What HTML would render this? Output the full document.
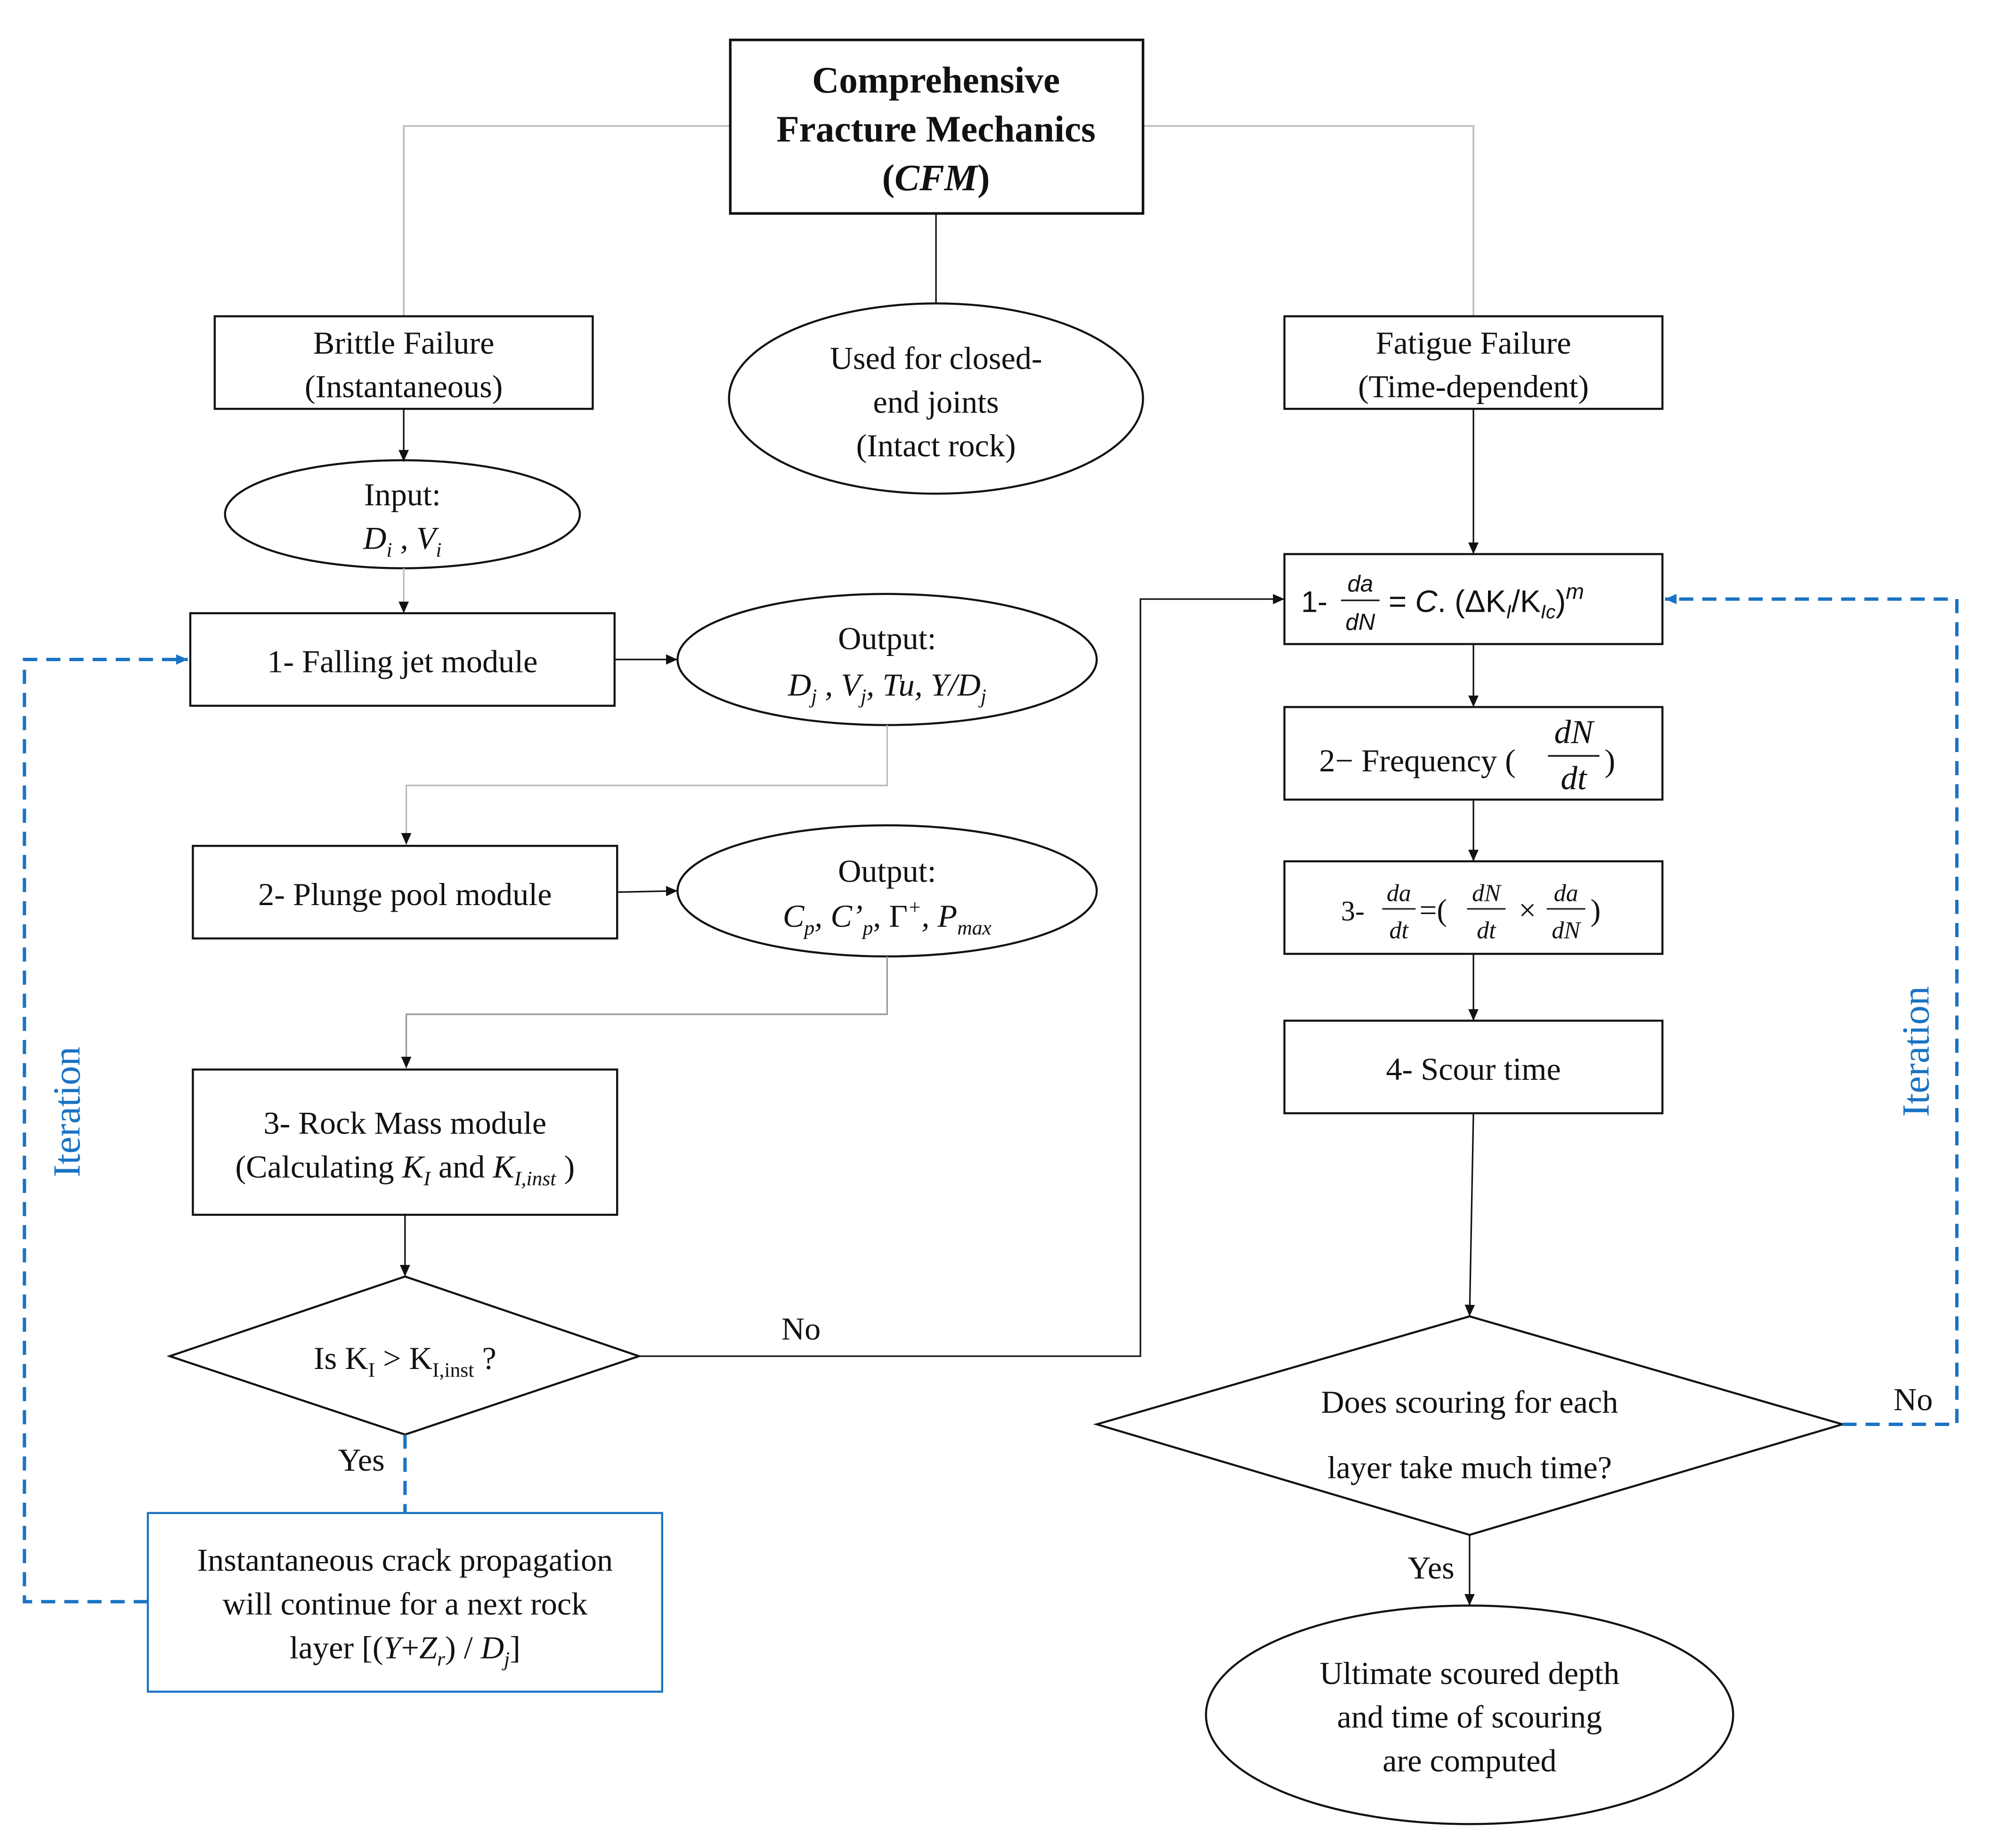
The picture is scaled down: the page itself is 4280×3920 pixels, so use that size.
<!DOCTYPE html>
<html><head><meta charset="utf-8"><style>
html,body{margin:0;padding:0;background:#fff;}
svg{display:block;}
text{font-family:"Liberation Serif",serif;fill:#111;}
</style></head><body>
<svg width="4280" height="3920" viewBox="0 0 1568 1436" xmlns="http://www.w3.org/2000/svg">
<defs>
<marker id="a" markerWidth="10" markerHeight="10" refX="9" refY="5" orient="auto" markerUnits="userSpaceOnUse"><path d="M0,1 L9,5 L0,9 z" fill="#111"/></marker>
<marker id="ab" markerWidth="10" markerHeight="10" refX="9" refY="5" orient="auto" markerUnits="userSpaceOnUse"><path d="M0,1 L9,5 L0,9 z" fill="#1a73c4"/></marker>
</defs>
<rect width="1568" height="1436" fill="#fff"/>
<g fill="none" stroke="#111" stroke-width="1.6">
<polyline points="568,98 314,98 314,246" stroke="#bbb" stroke-width="1.3"/>
<polyline points="889,98 1146,98 1146,246" stroke="#bbb" stroke-width="1.3"/>
<line x1="728" y1="166" x2="728" y2="236" stroke-width="1.2"/>
<rect x="568" y="31" width="321" height="135" stroke-width="2"/>
<rect x="167" y="246" width="294" height="72"/>
<ellipse cx="728" cy="310" rx="161" ry="74"/>
<rect x="999" y="246" width="294" height="72"/>
<line x1="314" y1="318" x2="314" y2="359" stroke-width="1.2" marker-end="url(#a)"/>
<ellipse cx="313" cy="400" rx="138" ry="42"/>
<line x1="314" y1="442" x2="314" y2="477" stroke="#bbb" stroke-width="1.2" marker-end="url(#a)"/>
<rect x="148" y="477" width="330" height="72"/>
<line x1="478" y1="513" x2="527" y2="513" stroke-width="1.2" marker-end="url(#a)"/>
<ellipse cx="690" cy="513" rx="163" ry="51"/>
<polyline points="690,564 690,611 316,611 316,657" stroke="#bbb" stroke-width="1.2" marker-end="url(#a)"/>
<rect x="150" y="658" width="330" height="72"/>
<line x1="480" y1="694" x2="527" y2="693" stroke-width="1.2" marker-end="url(#a)"/>
<ellipse cx="690" cy="693" rx="163" ry="51"/>
<polyline points="690,744 690,789 316,789 316,831" stroke="#999" stroke-width="1.2" marker-end="url(#a)"/>
<rect x="150" y="832" width="330" height="113"/>
<line x1="315" y1="945" x2="315" y2="993" stroke-width="1.2" marker-end="url(#a)"/>
<polygon points="132,1055 315,993 497,1055 315,1116"/>
<polyline points="497,1055 887,1055 887,466 999,466" stroke-width="1.2" marker-end="url(#a)"/>
<rect x="115" y="1177" width="400" height="139" stroke="#1a73c4"/>
<line x1="1146" y1="318" x2="1146" y2="431" stroke-width="1.2" marker-end="url(#a)"/>
<rect x="999" y="431" width="294" height="70"/>
<line x1="1146" y1="501" x2="1146" y2="550" stroke-width="1.2" marker-end="url(#a)"/>
<rect x="999" y="550" width="294" height="72"/>
<line x1="1146" y1="622" x2="1146" y2="670" stroke-width="1.2" marker-end="url(#a)"/>
<rect x="999" y="670" width="294" height="72"/>
<line x1="1146" y1="742" x2="1146" y2="794" stroke-width="1.2" marker-end="url(#a)"/>
<rect x="999" y="794" width="294" height="72"/>
<line x1="1146" y1="866" x2="1143" y2="1024" stroke-width="1.2" marker-end="url(#a)"/>
<polygon points="853,1108 1143,1024 1433,1108 1143,1194"/>
<line x1="1143" y1="1194" x2="1143" y2="1249" stroke-width="1.2" marker-end="url(#a)"/>
<ellipse cx="1143" cy="1334" rx="205" ry="85"/>
</g>
<g fill="none" stroke="#1a73c4" stroke-width="2.6" stroke-dasharray="11,7">
<line x1="315" y1="1116" x2="315" y2="1177"/>
<polyline points="115,1246 19,1246 19,513 146,513" marker-end="url(#ab)"/>
<polyline points="1433,1108 1522,1108 1522,466 1295,466" marker-end="url(#ab)"/>
</g>
<g font-size="25" text-anchor="middle">
<text x="728" y="72" font-weight="bold" font-size="29">Comprehensive</text>
<text x="728" y="110" font-weight="bold" font-size="29">Fracture Mechanics</text>
<text x="728" y="148" font-weight="bold" font-size="29">(<tspan font-style="italic">CFM</tspan>)</text>
<text x="314" y="275">Brittle Failure</text>
<text x="314" y="309">(Instantaneous)</text>
<text x="728" y="287">Used for closed-</text>
<text x="728" y="321">end joints</text>
<text x="728" y="355">(Intact rock)</text>
<text x="1146" y="275">Fatigue Failure</text>
<text x="1146" y="309">(Time-dependent)</text>
<text x="313" y="393">Input:</text>
<text x="313" y="427" font-style="italic">D<tspan font-size="16" dy="6">i</tspan><tspan dy="-6"> , V</tspan><tspan font-size="16" dy="6">i</tspan></text>
<text x="313" y="523">1- Falling jet module</text>
<text x="690" y="505">Output:</text>
<text x="690" y="541" font-style="italic">D<tspan font-size="16" dy="6">j</tspan><tspan dy="-6"> , V</tspan><tspan font-size="16" dy="6">j</tspan><tspan dy="-6">, Tu, Y/D</tspan><tspan font-size="16" dy="6">j</tspan></text>
<text x="315" y="704">2- Plunge pool module</text>
<text x="690" y="686">Output:</text>
<text x="690" y="721" font-style="italic">C<tspan font-size="16" dy="6">p</tspan><tspan dy="-6">, C’</tspan><tspan font-size="16" dy="6">p</tspan><tspan dy="-6" font-style="normal">, Γ</tspan><tspan font-size="16" dy="-10">+</tspan><tspan dy="10">, P</tspan><tspan font-size="16" dy="6">max</tspan></text>
<text x="315" y="882">3- Rock Mass module</text>
<text x="315" y="916">(Calculating <tspan font-style="italic">K</tspan><tspan font-size="16" dy="6" font-style="italic">I</tspan><tspan dy="-6"> and </tspan><tspan font-style="italic">K</tspan><tspan font-size="16" dy="6" font-style="italic">I,inst</tspan><tspan dy="-6"> )</tspan></text>
<text x="315" y="1065">Is K<tspan font-size="16" dy="6">I</tspan><tspan dy="-6"> &gt; K</tspan><tspan font-size="16" dy="6">I,inst</tspan><tspan dy="-6"> ?</tspan></text>
<text x="623" y="1042">No</text>
<text x="281" y="1144">Yes</text>
<text x="315" y="1222">Instantaneous crack propagation</text>
<text x="315" y="1256">will continue for a next rock</text>
<text x="315" y="1290">layer [(<tspan font-style="italic">Y</tspan>+<tspan font-style="italic">Z</tspan><tspan font-size="16" dy="6" font-style="italic">r</tspan><tspan dy="-6">) / </tspan><tspan font-style="italic">D</tspan><tspan font-size="16" dy="6" font-style="italic">j</tspan><tspan dy="-6">]</tspan></text>
<text x="1146" y="840">4- Scour time</text>
<text x="1143" y="1099">Does scouring for each</text>
<text x="1143" y="1150">layer take much time?</text>
<text x="1488" y="1097">No</text>
<text x="1113" y="1228">Yes</text>
<text x="1143" y="1310">Ultimate scoured depth</text>
<text x="1143" y="1344">and time of scouring</text>
<text x="1143" y="1378">are computed</text>
</g>
<text x="62" y="865" font-size="30" text-anchor="middle" transform="rotate(-90 62 865)" style="fill:#1a73c4">Iteration</text>
<text x="1500" y="818" font-size="30" text-anchor="middle" transform="rotate(-90 1500 818)" style="fill:#1a73c4">Iteration</text>
<g>
<text x="1012" y="476" font-size="23" style="font-family:'Liberation Sans',sans-serif">1-</text>
<text x="1058" y="460" font-size="18" font-style="italic" text-anchor="middle" style="font-family:'Liberation Sans',sans-serif">da</text>
<line x1="1043" y1="467" x2="1073" y2="467" stroke="#111" stroke-width="1.2"/>
<text x="1058" y="490" font-size="18" font-style="italic" text-anchor="middle" style="font-family:'Liberation Sans',sans-serif">dN</text>
<text x="1080" y="476" font-size="24" style="font-family:'Liberation Sans',sans-serif">= <tspan font-style="italic">C</tspan>. (ΔK<tspan font-size="15" dy="5" font-style="italic">I</tspan><tspan dy="-5">/K</tspan><tspan font-size="15" dy="5" font-style="italic">Ic</tspan><tspan dy="-5">)</tspan><tspan font-size="17" dy="-10" font-style="italic">m</tspan></text>
</g>
<g font-size="25">
<text x="1026" y="600">2− Frequency (</text>
<text x="1224" y="578" font-style="italic" text-anchor="middle" font-size="26">dN</text>
<line x1="1204" y1="588" x2="1244" y2="588" stroke="#111" stroke-width="1.3"/>
<text x="1224" y="614" font-style="italic" text-anchor="middle" font-size="26">dt</text>
<text x="1248" y="600">)</text>
<text x="1043" y="716" font-size="22">3-</text>
<text x="1088" y="701" font-size="19" font-style="italic" text-anchor="middle">da</text>
<line x1="1075" y1="707" x2="1101" y2="707" stroke="#111" stroke-width="1.1"/>
<text x="1088" y="730" font-size="19" font-style="italic" text-anchor="middle">dt</text>
<text x="1104" y="716" font-size="24">=(</text>
<text x="1156" y="701" font-size="19" font-style="italic" text-anchor="middle">dN</text>
<line x1="1141" y1="707" x2="1171" y2="707" stroke="#111" stroke-width="1.1"/>
<text x="1156" y="730" font-size="19" font-style="italic" text-anchor="middle">dt</text>
<text x="1188" y="716" font-size="24" text-anchor="middle">×</text>
<text x="1218" y="701" font-size="19" font-style="italic" text-anchor="middle">da</text>
<line x1="1203" y1="707" x2="1233" y2="707" stroke="#111" stroke-width="1.1"/>
<text x="1218" y="730" font-size="19" font-style="italic" text-anchor="middle">dN</text>
<text x="1237" y="716" font-size="24">)</text>
</g>
</svg>
</body></html>
